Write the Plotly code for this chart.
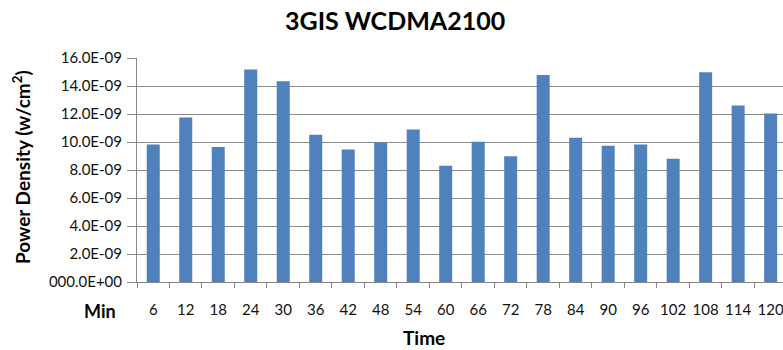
import plotly.graph_objects as go

categories = ["6", "12", "18", "24", "30", "36", "42", "48", "54", "60",
              "66", "72", "78", "84", "90", "96", "102", "108", "114", "120"]
power_density = [9.82e-9, 11.75e-9, 9.65e-9, 15.17e-9, 14.34e-9, 10.51e-9, 9.46e-9,
                 9.96e-9, 10.89e-9, 8.30e-9, 10.01e-9, 8.99e-9, 14.79e-9, 10.30e-9,
                 9.73e-9, 9.82e-9, 8.80e-9, 14.98e-9, 12.60e-9, 12.03e-9]
y_tick_vals = [0, 2e-9, 4e-9, 6e-9, 8e-9, 10e-9, 12e-9, 14e-9, 16e-9]
y_tick_text = ["000.0E+00", "2.0E-09", "4.0E-09", "6.0E-09", "8.0E-09",
               "10.0E-09", "12.0E-09", "14.0E-09", "16.0E-09"]

W, H = 783, 350
L, R, T, B = 137, 0, 58, 68

font_fam = "Lato, 'Open Sans', sans-serif"

fig = go.Figure()
fig.add_trace(go.Bar(
    x=categories, y=power_density,
    marker=dict(color="#4F81BD", line=dict(width=0)),
    width=0.4,
))

def px_x(p):
    return (p - L) / (W - L - R)

def px_y(p):
    return (H - B - p) / (H - T - B)

fig.update_layout(
    width=W, height=H,
    margin=dict(l=L, r=R, t=T, b=B, pad=0),
    paper_bgcolor="white", plot_bgcolor="white",
    showlegend=False,
    font=dict(family=font_fam, color="#000000"),
    xaxis=dict(
        type="category",
        range=[-0.5, 19.38],
        showgrid=False,
        showline=True, linecolor="#868686", linewidth=1,
        ticks="outside", tickson="boundaries", ticklen=5, tickcolor="#868686",
        tickfont=dict(size=15, color="#111111", family=font_fam),
        tickangle=0,
        ticklabelstandoff=14,
    ),
    yaxis=dict(
        range=[0, 16e-9],
        tickvals=y_tick_vals, ticktext=y_tick_text,
        showgrid=True, gridcolor="#8c8c8c", gridwidth=1,
        showline=True, linecolor="#868686", linewidth=1,
        ticks="outside", ticklen=9, tickcolor="#868686",
        tickfont=dict(size=15, color="#111111", family=font_fam),
        ticklabelstandoff=2,
        zeroline=False,
    ),
    annotations=[
        dict(text="<b>3GIS WCDMA2100</b>", xref="paper", yref="paper",
             x=px_x(395), y=px_y(20), showarrow=False,
             font=dict(size=25, family=font_fam, color="#000000"),
             xanchor="center", yanchor="middle"),
        dict(text="<b>Power Density (w/cm<sup>2</sup>)</b>", xref="paper", yref="paper",
             x=px_x(21), y=px_y(167), showarrow=False, textangle=-90,
             font=dict(size=19, family=font_fam, color="#000000"),
             xanchor="center", yanchor="middle"),
        dict(text="<b>Time</b>", xref="paper", yref="paper",
             x=px_x(424), y=px_y(337), showarrow=False,
             font=dict(size=19, family=font_fam, color="#000000"),
             xanchor="center", yanchor="middle"),
        dict(text="<b>Min</b>", xref="paper", yref="paper",
             x=px_x(100), y=px_y(311), showarrow=False,
             font=dict(size=18, family=font_fam, color="#000000"),
             xanchor="center", yanchor="middle"),
    ],
)

fig.write_html("out.html")
